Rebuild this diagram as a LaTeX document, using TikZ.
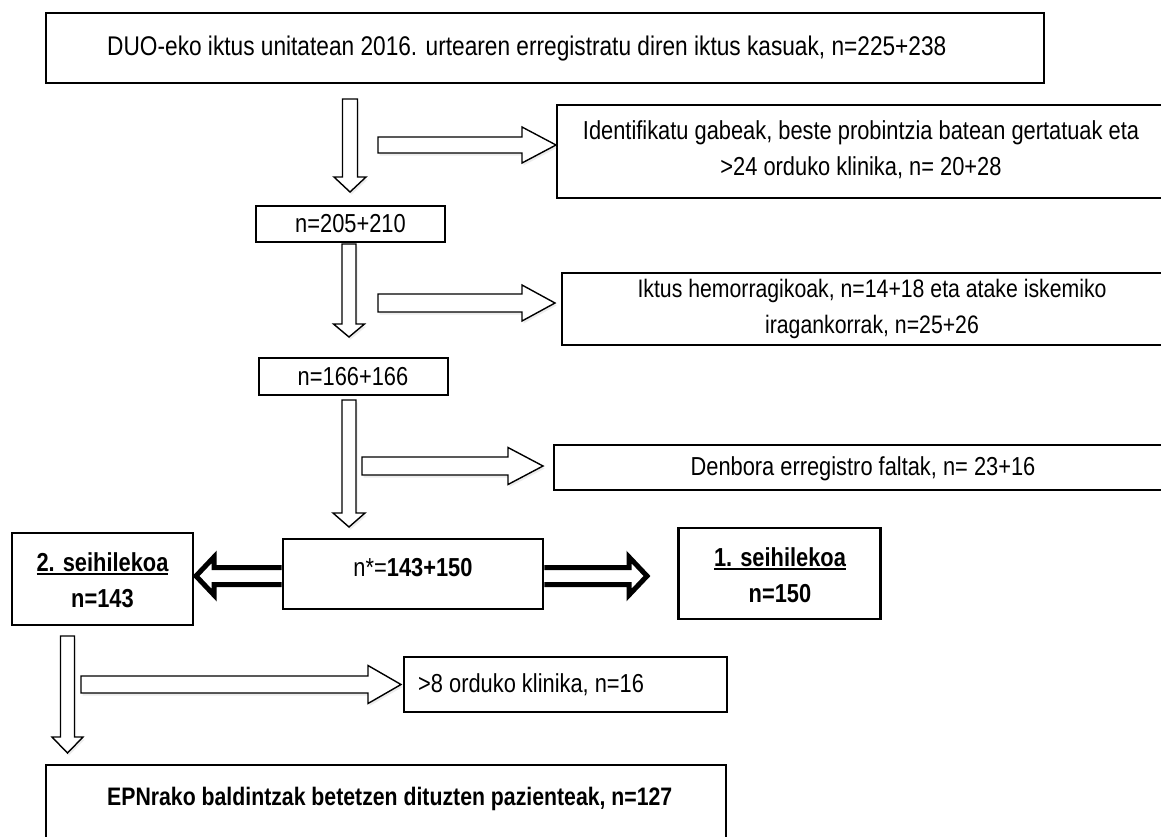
\documentclass[tikz,border=0pt]{standalone}
\usepackage{fontspec}
\setmainfont[FakeStretch=0.84]{Liberation Sans}
\usetikzlibrary{calc,shadows}
\newcommand\ulb[1]{\leavevmode\vtop{\hbox{#1}\kern2pt\hrule height 2pt}}
\newcommand\varr[5]{%
  \draw[blk] let \p1=(#1), \p2=(#2) in
   (\x1-#3pt,\y1) -- (\x1-#3pt,\y2+#5pt) -- (\x1-#4pt,\y2+#5pt) -- (\x2,\y2)
   -- (\x1+#4pt,\y2+#5pt) -- (\x1+#3pt,\y2+#5pt) -- (\x1+#3pt,\y1) -- cycle;}
\newcommand\harr[5]{%
  \draw[blk] let \p1=(#1), \p2=(#2) in
   (\x1,\y1+#3pt) -- (\x2-#5pt,\y1+#3pt) -- (\x2-#5pt,\y1+#4pt) -- (\x2,\y2)
   -- (\x2-#5pt,\y1-#4pt) -- (\x2-#5pt,\y1-#3pt) -- (\x1,\y1-#3pt) -- cycle;}
\tikzset{
  box/.style={draw, line width=2.6pt, fill=white, inner sep=0pt},
  txt/.style={inner sep=0pt, font=\fontsize{26}{36}\selectfont, align=center},
  blk/.style={draw, line width=1.4pt, fill=white, line join=miter,
    drop shadow={opacity=0.15, shadow xshift=1.5pt, shadow yshift=-2.5pt}},
  thk/.style={draw, line width=5pt, line join=miter, fill=white}
}
\begin{document}
\begin{tikzpicture}[x=1pt,y=-1pt]
\useasboundingbox (0,0) rectangle (1161,836);
\fill[white] (0,0) rectangle (1161,836);
\clip (0,0) rectangle (1161,836);
% boxes
\node[box, minimum width=998pt, minimum height=70pt] (b1) at (545,48) {};
\node[box, minimum width=613pt, minimum height=93pt] (b2) at (863.5,151.5) {};
\node[box, minimum width=189pt, minimum height=36pt] (b3) at (350.5,224) {};
\node[box, minimum width=608pt, minimum height=72pt] (b4) at (866,309) {};
\node[box, minimum width=189pt, minimum height=37pt] (b5) at (353.5,376.5) {};
\node[box, minimum width=616pt, minimum height=45pt] (b6) at (862,467.5) {};
\node[box, minimum width=260pt, minimum height=70pt] (nstar) at (413,574) {};
\node[box, minimum width=181pt, minimum height=92pt] (s2) at (102.5,579) {};
\node[box, minimum width=202pt, minimum height=91pt] (s1) at (779.5,573.5) {};
\node[box, minimum width=323pt, minimum height=55pt] (b8) at (565.5,684.5) {};
\node[box, minimum width=680pt, minimum height=90pt] (b9) at (386,810) {};
% texts
\node[txt, anchor=base west, font=\fontsize{27}{36}\selectfont] (t1) at (107,55) {DUO-eko iktus unitatean 2016. urtearen erregistratu diren iktus kasuak, n=225+238};
\node[txt, anchor=base] (t2) at (861,175) {Identifikatu gabeak, beste probintzia batean gertatuak eta\\>24 orduko klinika, n= 20+28};
\node[txt, anchor=base] (t3) at (350.5,232) {n=205+210};
\node[txt, anchor=base, font=\fontsize{25.3}{36}\selectfont] (t4) at (872,333) {Iktus hemorragikoak, n=14+18 eta atake iskemiko\\iragankorrak, n=25+26};
\node[txt, anchor=base] (t5) at (353,385) {n=166+166};
\node[txt, anchor=base] (t6) at (863,475) {Denbora erregistro faltak, n= 23+16};
\node[txt, anchor=base] (t7) at (413,576) {n*=\textbf{143+150}};
\node[txt, anchor=base] (t8) at (102.5,607) {\textbf{\ulb{2. seihilekoa}}\\\textbf{n=143}};
\node[txt, anchor=base] (t9) at (780,602) {\textbf{\ulb{1. seihilekoa}}\\\textbf{n=150}};
\node[txt, anchor=base west] (t10) at (418,692) {>8 orduko klinika, n=16};
\node[txt, anchor=base west, font=\fontsize{25.3}{36}\selectfont] (t11) at (107,805) {\textbf{EPNrako baldintzak betetzen dituzten pazienteak, n=127}};
% arrow end points
\coordinate (a1s) at (350,99);   \coordinate (a1t) at (350,192);
\coordinate (a2s) at (349,244);  \coordinate (a2t) at (349,337);
\coordinate (a3s) at (349,400);  \coordinate (a3t) at (349,527);
\coordinate (a4s) at (67.5,636); \coordinate (a4t) at (67.5,753);
\coordinate (r1s) at (378,145);  \coordinate (r1t) at (556,145);
\coordinate (r2s) at (378,303);  \coordinate (r2t) at (555,303);
\coordinate (r3s) at (362,466);  \coordinate (r3t) at (543,466);
\coordinate (r4s) at (81,684.5); \coordinate (r4t) at (401,684.5);
\coordinate (L) at (196,576);    \coordinate (R) at (647,576);
% block arrows
\varr{a1s}{a1t}{7.5}{16}{15}
\varr{a2s}{a2t}{7}{15.5}{13}
\varr{a3s}{a3t}{7}{16}{14}
\varr{a4s}{a4t}{7}{15.5}{16}
\harr{r1s}{r1t}{8}{18}{34}
\harr{r2s}{r2t}{9}{18}{33}
\harr{r3s}{r3t}{9}{18.5}{35}
\harr{r4s}{r4t}{8.5}{19}{33}
% thick double arrows
\draw[thk] ($(nstar.west)+(0,-6.5)$) -- ($(L)+(18,-8.5)$) -- ($(L)+(18,-19)$) -- (L)
  -- ($(L)+(18,19)$) -- ($(L)+(18,8.5)$) -- ($(nstar.west)+(0,10.5)$);
\draw[thk] ($(nstar.east)+(0,-6.5)$) -- ($(R)+(-18,-8.5)$) -- ($(R)+(-18,-19)$) -- (R)
  -- ($(R)+(-18,19)$) -- ($(R)+(-18,8.5)$) -- ($(nstar.east)+(0,10.5)$);
\end{tikzpicture}
\end{document}
